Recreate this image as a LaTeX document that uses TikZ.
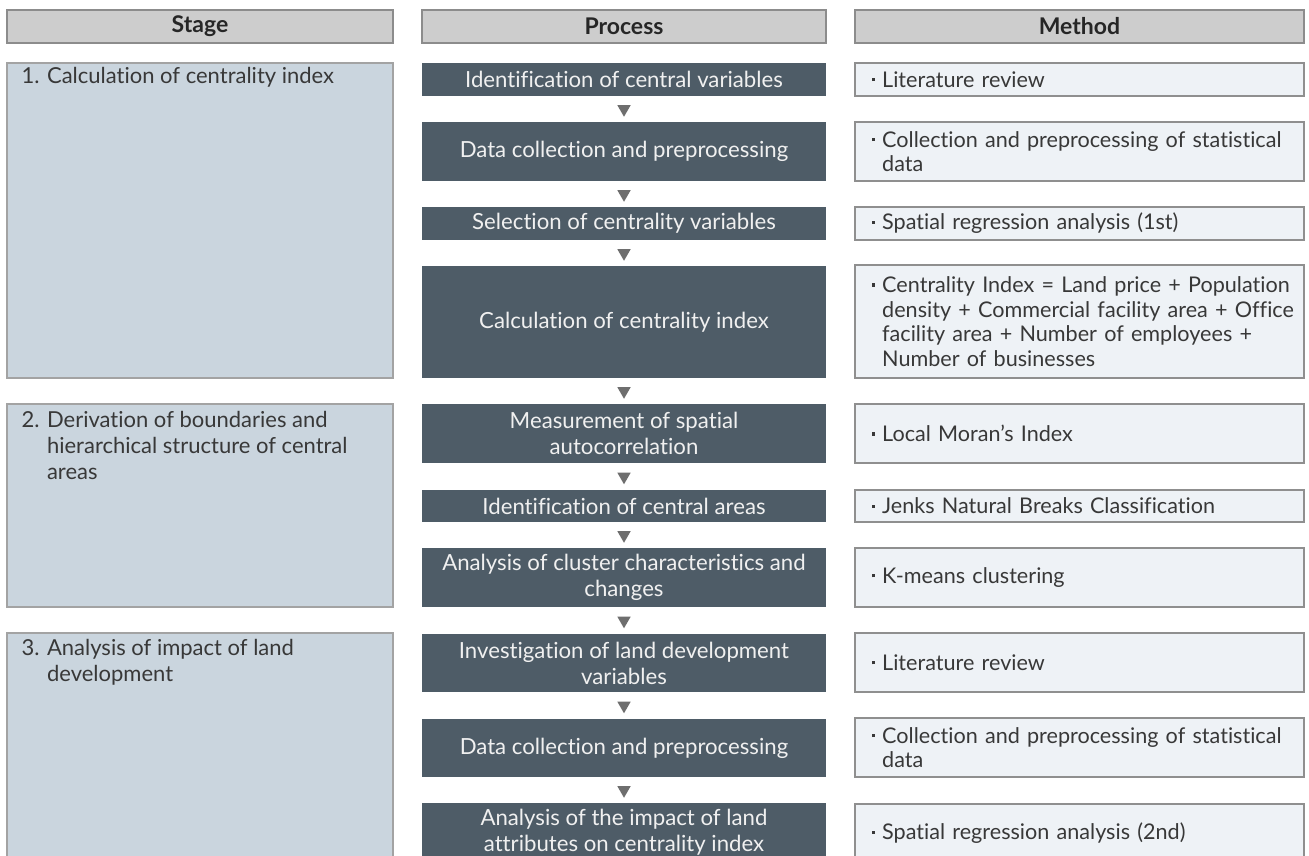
\documentclass[tikz,border=0pt]{standalone}
\usepackage{fontspec}
\setmainfont{Lato}[Ligatures=NoCommon, BoldFont=* Bold]
\usetikzlibrary{shapes.geometric}
\definecolor{hdrfill}{HTML}{CDCDCD}
\definecolor{hdrline}{HTML}{8C8C8C}
\definecolor{stgfill}{HTML}{CAD5DE}
\definecolor{stgline}{HTML}{A3A3A3}
\definecolor{procfill}{HTML}{4E5C67}
\definecolor{proctext}{HTML}{F0F0F0}
\definecolor{methfill}{HTML}{EEF2F6}
\definecolor{methline}{HTML}{8F8F8F}
\definecolor{tricol}{HTML}{6E6E6E}
\definecolor{txtdark}{HTML}{383838}
\newcommand{\mbul}{\hspace*{17pt}\raisebox{0.28em}{\rule{3.2pt}{3.2pt}}\hspace{7pt}}
\newcommand{\mind}{\hspace*{27.2pt}}
\begin{document}
\begin{tikzpicture}[x=1pt,y=-1pt,
  hdr/.style={draw=hdrline, fill=hdrfill, line width=1.3pt, inner sep=0pt,
    minimum height=33pt, text=black!85, font=\bfseries\fontsize{23}{26}\selectfont},
  stagebox/.style={draw=stgline, fill=stgfill, line width=1.2pt, inner sep=0pt, minimum width=386pt},
  stagetxt/.style={anchor=north west, align=left, inner sep=0pt, text=txtdark,
    font=\fontsize{22}{26}\selectfont},
  proc/.style={fill=procfill, text=proctext, align=center, inner sep=0pt,
    minimum width=404pt, font=\fontsize{22.2}{26}\selectfont},
  meth/.style={draw=methline, fill=methfill, line width=1.2pt, align=left,
    inner xsep=0pt, inner ysep=0pt, text width=449pt, text=txtdark,
    font=\fontsize{21.6}{24.5}\selectfont},
  tri/.style={regular polygon, regular polygon sides=3, shape border rotate=180,
    fill=tricol, inner sep=0pt, minimum size=15.5pt}
]
\useasboundingbox (0,0) rectangle (1309,856);
\fill[white] (0,0) rectangle (1309,856);
\clip (0,0) rectangle (1309,856);

% headers
\node[hdr, minimum width=386pt] (hs) at (200,26.5) {Stage};
\node[hdr, minimum width=404pt] (hp) at (624,26.5) {Process};
\node[hdr, minimum width=449pt] (hm) at (1079.5,26.5) {Method};

% stage boxes
\node[stagebox, minimum height=315pt] (s1) at (200,220.5) {};
\node[stagebox, minimum height=203pt] (s2) at (200,505.5) {};
\node[stagebox, minimum height=260pt] (s3) at (200,763) {};
\node[stagetxt] (s1t) at ([xshift=15pt,yshift=-5pt]s1.north west) {1. Calculation of centrality index};
\node[stagetxt] (s2t) at ([xshift=15pt,yshift=-8pt]s2.north west) {2. Derivation of boundaries and\\\phantom{2. }hierarchical structure of central\\\phantom{2. }areas};
\node[stagetxt] (s3t) at ([xshift=15pt,yshift=-7pt]s3.north west) {3. Analysis of impact of land\\\phantom{3. }development};

% process boxes
\node[proc, minimum height=33pt] (p1) at (624,79.5) {Identification of central variables};
\node[proc, minimum height=59pt] (p2) at (624,151.5) {Data collection and preprocessing};
\node[proc, minimum height=33pt] (p3) at (624,223.5) {Selection of centrality variables};
\node[proc, minimum height=112pt] (p4) at (624,322) {Calculation of centrality index};
\node[proc, minimum height=59pt] (p5) at (624,433.5) {Measurement of spatial\\autocorrelation};
\node[proc, minimum height=32pt] (p6) at (624,506) {Identification of central areas};
\node[proc, minimum height=59pt] (p7) at (624,577.5) {Analysis of cluster characteristics and\\changes};
\node[proc, minimum height=58pt] (p8) at (624,663) {Investigation of land development\\variables};
\node[proc, minimum height=58pt] (p9) at (624,748) {Data collection and preprocessing};
\node[proc, minimum height=59pt] (p10) at (624,832.5) {Analysis of the impact of land\\attributes on centrality index};

% method boxes
\node[meth, minimum height=33pt] (m1) at (1079.5,79.5) {\mbul Literature review};
\node[meth, minimum height=59pt] (m2) at (1079.5,151.5) {\mbul Collection and preprocessing of statistical\\\mind data};
\node[meth, minimum height=33pt] (m3) at (1079.5,223.5) {\mbul Spatial regression analysis (1st)};
\node[meth, minimum height=113pt] (m4) at (1079.5,321.5) {\mbul Centrality Index = Land price + Population\\\mind density + Commercial facility area + Office\\\mind facility area + Number of employees +\\\mind Number of businesses};
\node[meth, minimum height=59pt] (m5) at (1079.5,433.5) {\mbul Local Moran's Index};
\node[meth, minimum height=32pt] (m6) at (1079.5,506) {\mbul Jenks Natural Breaks Classification};
\node[meth, minimum height=59pt] (m7) at (1079.5,577.5) {\mbul K-means clustering};
\node[meth, minimum height=59pt] (m8) at (1079.5,662.5) {\mbul Literature review};
\node[meth, minimum height=59pt] (m9) at (1079.5,747.5) {\mbul Collection and preprocessing of statistical\\\mind data};
\node[meth, minimum height=59pt] (m10) at (1079.5,833.5) {\mbul Spatial regression analysis (2nd)};

% arrows between process steps
\foreach \a/\b in {p1/p2,p2/p3,p3/p4,p4/p5,p5/p6,p6/p7,p7/p8,p8/p9,p9/p10}
  \path (\a.south) -- (\b.north) node[midway, tri] {};
\end{tikzpicture}
\end{document}
